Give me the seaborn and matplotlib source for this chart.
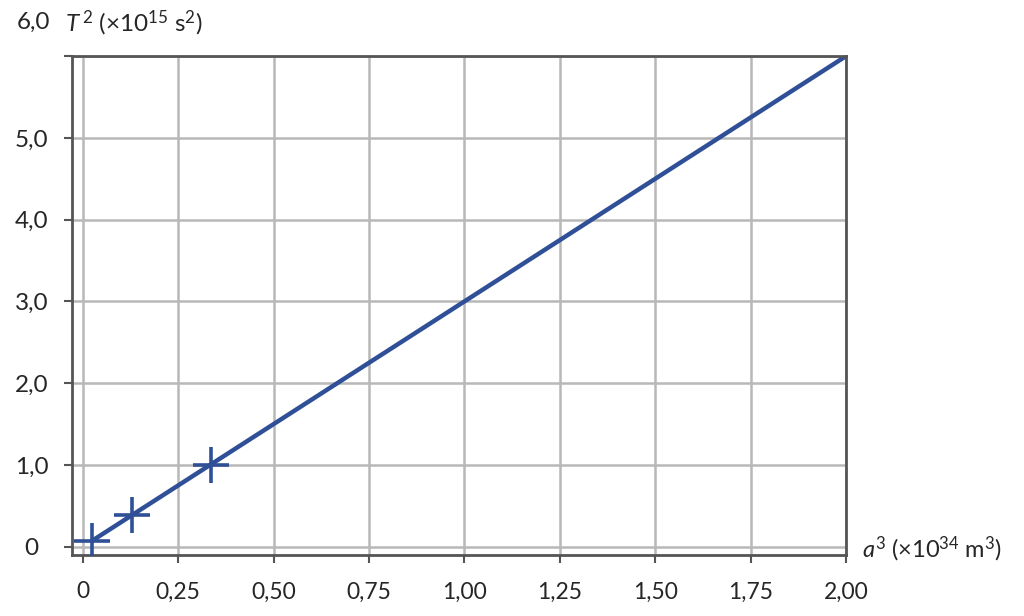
import seaborn as sns
import matplotlib.pyplot as plt
import pandas as pd

# 數據：量測點與擬合直線
a3_points = [0.025, 0.13, 0.335]     # a^3 (×10^34 m^3)
t2_points = [0.07, 0.39, 1.00]       # T^2 (×10^15 s^2)
fit_a3 = [0.025, 2.00]
fit_t2 = [0.075, 6.00]

x_ticks = [0, 0.25, 0.50, 0.75, 1.00, 1.25, 1.50, 1.75, 2.00]
x_labels = ['0', '0,25', '0,50', '0,75', '1,00', '1,25', '1,50', '1,75', '2,00']
y_ticks = [0, 1, 2, 3, 4, 5]
y_labels = ['0', '1,0', '2,0', '3,0', '4,0', '5,0']

sns.set_theme(style="whitegrid")
plt.rcParams['font.family'] = ['Lato', 'DejaVu Sans']
plt.rcParams['mathtext.fontset'] = 'custom'
plt.rcParams['mathtext.rm'] = 'Lato'
plt.rcParams['mathtext.it'] = 'Lato:italic'

blue = '#2f4f96'
fig = plt.figure(figsize=(10.24, 6.16), dpi=100)
ax = fig.add_axes([0.0703, 0.099, 0.756, 0.810])

df_fit = pd.DataFrame({'a3': fit_a3, 't2': fit_t2})
df_pts = pd.DataFrame({'a3': a3_points, 't2': t2_points})
sns.lineplot(data=df_fit, x='a3', y='t2', color=blue, linewidth=3.2, ax=ax)
sns.scatterplot(data=df_pts, x='a3', y='t2', marker='+', s=680, color=blue,
                linewidth=2.6, ax=ax, zorder=3)

ax.set_xlim(-0.028, 2.0)
ax.set_ylim(-0.1, 5.97)
ax.set_xticks(x_ticks)
ax.set_xticklabels(x_labels, fontsize=16.5)
ax.set_yticks(y_ticks + [6])
ax.set_yticklabels(y_labels + [''], fontsize=17.5)
for lab in ax.get_yticklabels():
    lab.set_horizontalalignment('center')
ax.tick_params(axis='y', length=6, width=1.5, color='#555555', pad=23, left=True)
ax.tick_params(axis='x', length=6, width=1.5, color='#555555', pad=13, bottom=True)
ax.grid(True, color='#b8b8b8', linewidth=1.8)
ax.set_facecolor('white')
for sp in ax.spines.values():
    sp.set_color('#555555')
    sp.set_linewidth(2)
ax.set_xlabel('')
ax.set_ylabel('')

# 軸標題與 6,0 標籤
fig.text(33 / 1024, 1 - 22 / 616, '6,0', fontsize=17.5, ha='center', va='center')
fig.text(65 / 1024, 1 - 23 / 616, r'$\mathit{T}^{\,2}$ (×10$^{15}$ s$^{2}$)', fontsize=17.5,
         ha='left', va='center')
fig.text(862 / 1024, 1 - 549 / 616, r'$\mathit{a}^{3}$ (×10$^{34}$ m$^{3}$)', fontsize=17,
         ha='left', va='center')

plt.savefig('out.png', dpi=100)
